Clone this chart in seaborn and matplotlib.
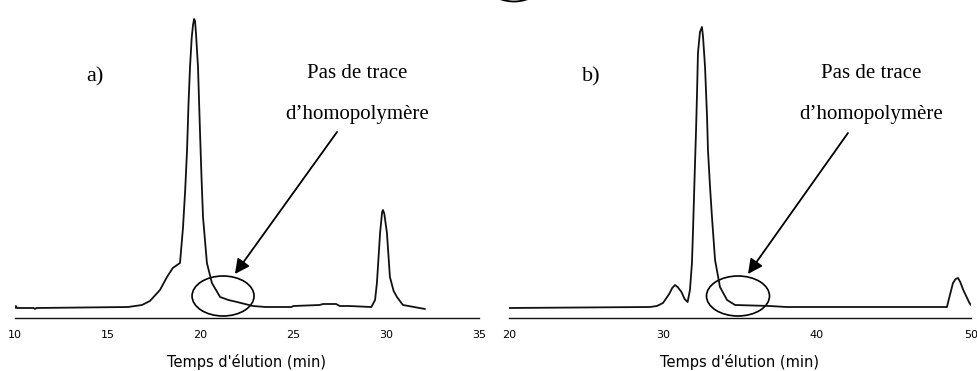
import numpy as np
import matplotlib
matplotlib.use("Agg")
import matplotlib.pyplot as plt
from matplotlib.patches import Ellipse
import seaborn as sns

# chromatogram a) - elution time (min) and detector signal (arbitrary units)
time_a = [10.0, 10.05, 10.1, 11.0, 11.08, 11.15, 16.09, 16.84, 17.27, 17.81, 18.19, 18.5,
          18.89, 19.05, 19.17, 19.27, 19.35, 19.43, 19.52, 19.59, 19.65, 19.7, 19.75, 19.86, 19.97, 20.05, 20.13,
          20.34, 20.61, 21.05, 21.5, 21.96, 22.82, 23.5, 24.9, 25.0, 26.4, 26.6,
          27.3, 27.5, 28.0, 29.2, 29.4, 29.5, 29.67, 29.78, 29.83, 29.9, 30.04, 30.2, 30.4, 30.58, 30.9,
          31.5, 32.09]
signal_a = [0, 2, 0, 0, -1, 0, 1, 3, 7, 18, 31, 40,
            45, 80, 118, 158, 205, 241, 270, 283, 289, 287, 275, 241, 175, 130, 91,
            45, 25, 11, 8, 6, 2, 1, 1, 2, 3, 4,
            4, 2, 2, 1, 8, 25, 75, 96, 98, 94, 75, 31, 17, 11, 3,
            1, -1]

# chromatogram b)
time_b = [20.0, 29.16, 29.6, 30.0, 30.4, 30.6, 30.78, 30.95, 31.2, 31.4, 31.6, 31.75, 31.88, 31.95,
          32.05, 32.15, 32.21, 32.27, 32.4, 32.53, 32.6, 32.73, 32.86, 32.92, 33.05, 33.18, 33.38,
          33.7, 34.16, 34.68, 36.95, 38.0, 48.44, 48.5, 48.83, 49.0, 49.16, 49.3, 49.5, 49.9, 50.0]
signal_b = [0, 1, 2, 5, 14, 20, 23, 21, 16, 9, 6, 18, 45, 78,
            130, 180, 215, 255, 276, 281, 271, 241, 191, 158, 122, 91, 48,
            21, 8, 3, 2, 1, 1, 5, 25, 29, 30, 26, 18, 5, 3]

ticks_a = [10, 15, 20, 25, 30, 35]
minor_a = [12.5, 17.5, 22.5, 27.5, 32.5]
ticks_b = [20, 30, 40, 50]
minor_b = [25, 35, 45]

xlabel = "Temps d'élution (min)"
note_1 = "Pas de trace"
note_2 = "d\u2019homopolymère"

sns.set_style("white")
plt.rcParams['font.family'] = ['DejaVu Sans']
plt.rcParams['text.color'] = 'black'
plt.rcParams['axes.labelcolor'] = 'black'
plt.rcParams['xtick.color'] = 'black'

fig = plt.figure(figsize=(9.78, 3.71), dpi=100)
ax_a = fig.add_axes([15 / 978, 53 / 371, 464 / 978, 318 / 371])
ax_b = fig.add_axes([509 / 978, 53 / 371, 462 / 978, 318 / 371])

sns.lineplot(x=time_a, y=signal_a, ax=ax_a, color='#111111', lw=1.3, sort=False)
sns.lineplot(x=time_b, y=signal_b, ax=ax_b, color='#111111', lw=1.3, sort=False)

panels = [
    (ax_a, (10, 35), ticks_a, minor_a, "a)", 14.31, 28.43, (27.35, 176), (21.85, 34), (21.21, 12), 3.34),
    (ax_b, (20, 50), ticks_b, minor_b, "b)", 25.32, 43.51, (42.01, 175), (35.52, 34), (34.87, 12), 4.09),
]

for ax, xlim, major, minor, tag, tag_x, note_x, arr_start, arr_end, ell_c, ell_w in panels:
    ax.set_xlim(*xlim)
    ax.set_ylim(-10, 308)
    ax.set_xticks(major)
    ax.set_xticks(minor, minor=True)
    ax.set_yticks([])
    for side in ['top', 'left', 'right']:
        ax.spines[side].set_visible(False)
    ax.spines['bottom'].set_linewidth(1.0)
    ax.spines['bottom'].set_color('#111111')
    ax.tick_params(axis='x', which='major', direction='out', length=4.5, width=1.0,
                   labelsize=8, pad=4, color='#111111')
    ax.tick_params(axis='x', which='minor', direction='out', length=3, width=1.0, color='#111111')
    ax.set_xlabel(xlabel, fontsize=10.5, labelpad=10)
    ax.set_ylabel('')
    ax.patch.set_alpha(0)

    ax.text(tag_x, 231, tag, family='Liberation Serif', fontsize=16, ha='center', va='center')
    ax.text(note_x, 234, note_1, family='Liberation Serif', fontsize=15, ha='center', va='center')
    ax.text(note_x, 194, note_2, family='Liberation Serif', fontsize=15, ha='center', va='center')

    ax.annotate('', xy=arr_end, xytext=arr_start,
                arrowprops=dict(arrowstyle='-|>', color='black', lw=1.3, mutation_scale=22,
                                shrinkA=0, shrinkB=0))
    ax.add_patch(Ellipse(ell_c, ell_w, 40, fill=False, edgecolor='black', lw=1.2))

# small cut-off arc at the top edge
fig.patches.append(Ellipse((514 / 978, 1 + 38.5 / 371), 80 / 978, 80 / 371, fill=False,
                           edgecolor='black', lw=1.3, transform=fig.transFigure, figure=fig))

fig.savefig('out.png', dpi=100)
